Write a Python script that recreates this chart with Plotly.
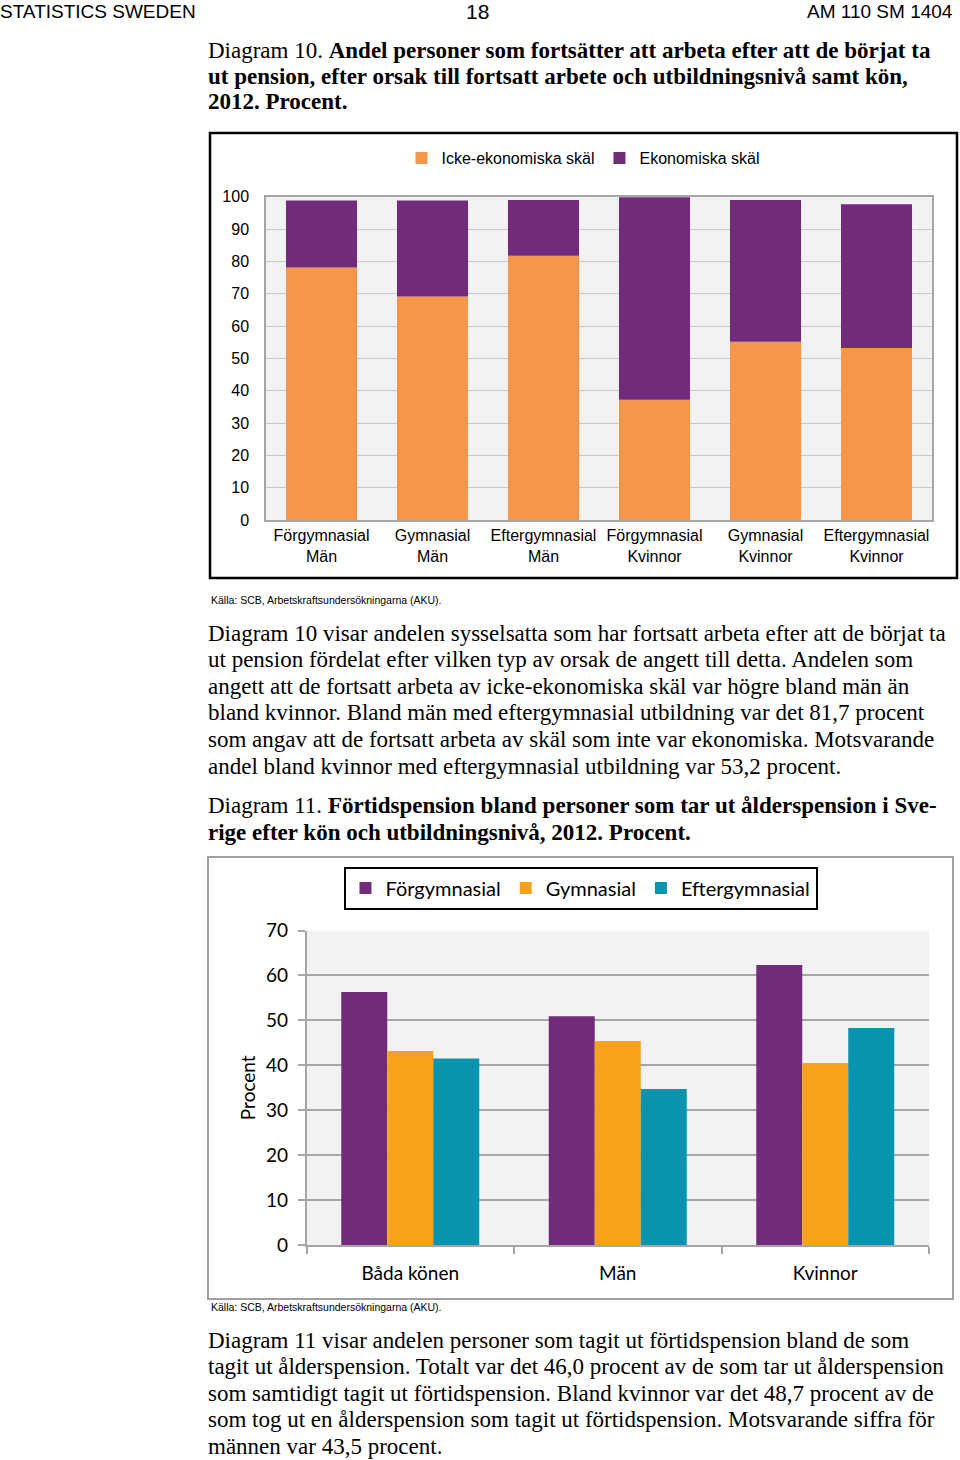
import plotly.graph_objects as go

W, H = 960, 1460


def px(x):
    return x / W


def py(y):
    return 1 - y / H


# ---------------- Data: Diagram 10 ----------------
cat1 = ["Förgymnasial<br>Män", "Gymnasial<br>Män", "Eftergymnasial<br>Män",
        "Förgymnasial<br>Kvinnor", "Gymnasial<br>Kvinnor", "Eftergymnasial<br>Kvinnor"]
icke_ekonomiska = [78.1, 69.1, 81.7, 37.2, 55.1, 53.2]
ekonomiska = [20.7, 29.7, 17.3, 62.6, 43.9, 44.5]
y1_ticks = [0, 10, 20, 30, 40, 50, 60, 70, 80, 90, 100]

# ---------------- Data: Diagram 11 ----------------
cat2 = ["Båda könen", "Män", "Kvinnor"]
forgymnasial = [56.3, 50.9, 62.3]
gymnasial = [43.2, 45.4, 40.5]
eftergymnasial = [41.5, 34.7, 48.3]
y2_ticks = [0, 10, 20, 30, 40, 50, 60, 70]

ORANGE = "#F5964A"
PURPLE = "#722B7B"
GOLD = "#F7A21B"
TEAL = "#0893AE"

SANS = "Liberation Sans"
SERIF = "Liberation Serif"
CAL = "Lato"

fig = go.Figure()

fig.add_trace(go.Bar(x=cat1, y=icke_ekonomiska, name="Icke-ekonomiska skäl",
                     marker=dict(color=ORANGE, line=dict(width=0)),
                     offsetgroup="s", width=0.64, xaxis="x", yaxis="y", legend="legend"))
fig.add_trace(go.Bar(x=cat1, y=ekonomiska, base=icke_ekonomiska, name="Ekonomiska skäl",
                     marker=dict(color=PURPLE, line=dict(width=0)),
                     offsetgroup="s", width=0.64, xaxis="x", yaxis="y", legend="legend"))

for name, vals, col, g in [("Förgymnasial", forgymnasial, PURPLE, "a"),
                           ("Gymnasial", gymnasial, GOLD, "b"),
                           ("Eftergymnasial", eftergymnasial, TEAL, "c")]:
    fig.add_trace(go.Bar(x=cat2, y=vals, name=name,
                         marker=dict(color=col, line=dict(width=0)),
                         offsetgroup=g, xaxis="x2", yaxis="y2", legend="legend2"))

annotations = []


def txt(x, y, text, size, family, anchor="left", color="black"):
    annotations.append(dict(x=px(x), y=py(y), xref="paper", yref="paper",
                            text=text, showarrow=False, xanchor=anchor, yanchor="middle",
                            font=dict(family=family, size=size, color=color)))


# Header
txt(-2, 11, "STATISTICS SWEDEN", 19, SANS)
txt(477, 12, "18", 21, SANS, anchor="center")
txt(955, 11, "AM 110 SM 1404", 19, SANS, anchor="right")

# Title diagram 10
txt(206, 50, "Diagram 10. <b>Andel personer som fortsätter att arbeta efter att de börjat ta</b>", 23, SERIF)
txt(206, 76, "<b>ut pension, efter orsak till fortsatt arbete och utbildningsnivå samt kön,</b>", 23, SERIF)
txt(206, 102, "<b>2012. Procent.</b>", 23, SERIF)

txt(209, 600, "Källa: SCB, Arbetskraftsundersökningarna (AKU).", 10.5, SANS)

body1 = [
    (633, "Diagram 10 visar andelen sysselsatta som har fortsatt arbeta efter att de börjat ta"),
    (659, "ut pension fördelat efter vilken typ av orsak de angett till detta. Andelen som"),
    (686, "angett att de fortsatt arbeta av icke-ekonomiska skäl var högre bland män än"),
    (712, "bland kvinnor. Bland män med eftergymnasial utbildning var det 81,7 procent"),
    (739, "som angav att de fortsatt arbeta av skäl som inte var ekonomiska. Motsvarande"),
    (766, "andel bland kvinnor med eftergymnasial utbildning var 53,2 procent."),
]
for y, t in body1:
    txt(206, y, t, 23, SERIF)

txt(206, 805, "Diagram 11. <b>Förtidspension bland personer som tar ut ålderspension i Sve-</b>", 23, SERIF)
txt(206, 832, "<b>rige efter kön och utbildningsnivå, 2012. Procent.</b>", 23, SERIF)

txt(209, 1307, "Källa: SCB, Arbetskraftsundersökningarna (AKU).", 10.5, SANS)

body2 = [
    (1340, "Diagram 11 visar andelen personer som tagit ut förtidspension bland de som"),
    (1366, "tagit ut ålderspension. Totalt var det 46,0 procent av de som tar ut ålderspension"),
    (1393, "som samtidigt tagit ut förtidspension. Bland kvinnor var det 48,7 procent av de"),
    (1419, "som tog ut en ålderspension som tagit ut förtidspension. Motsvarande siffra för"),
    (1446, "männen var 43,5 procent."),
]
for y, t in body2:
    txt(206, y, t, 23, SERIF)

shapes = [
    dict(type="rect", xref="paper", yref="paper", x0=px(210), x1=px(957), y0=py(578), y1=py(133),
         line=dict(color="black", width=2.5), fillcolor="rgba(0,0,0,0)", layer="above"),
    dict(type="rect", xref="paper", yref="paper", x0=px(208), x1=px(953), y0=py(1299), y1=py(857),
         line=dict(color="#a0a0a0", width=2), fillcolor="rgba(0,0,0,0)", layer="above"),
]

fig.update_layout(
    width=W, height=H,
    margin=dict(l=0, r=0, t=0, b=0, pad=0, autoexpand=False),
    paper_bgcolor="white",
    plot_bgcolor="#f2f2f2",
    barmode="group",
    bargap=0.335,
    bargroupgap=0,
    annotations=annotations,
    shapes=shapes,
    showlegend=True,
    xaxis=dict(domain=[px(266), px(932)], anchor="y", type="category", range=[-0.5, 5.5],
               showgrid=False, ticks="", showline=True, linecolor="#a6a6a6", linewidth=1.5,
               mirror=True, automargin=False, tickfont=dict(family=SANS, size=16, color="black")),
    yaxis=dict(domain=[py(520), py(196.7)], anchor="x", range=[0, 100], tickvals=y1_ticks,
               showgrid=True, gridcolor="#c9c9c9", gridwidth=1, zeroline=False,
               showline=True, linecolor="#a6a6a6", linewidth=1.5, mirror=True, ticks="",
               automargin=False, ticklabelstandoff=12,
               tickfont=dict(family=SANS, size=16, color="black")),
    xaxis2=dict(domain=[px(306.5), px(929)], anchor="y2", type="category", range=[-0.5, 2.5],
                showgrid=False, ticks="outside", tickson="boundaries", ticklen=7,
                tickcolor="#a6a6a6", tickwidth=1.5, showline=True, linecolor="#a6a6a6",
                linewidth=1.5, ticklabelstandoff=10, automargin=False,
                tickfont=dict(family=CAL, size=19, color="black")),
    yaxis2=dict(domain=[py(1245), py(930.5)], anchor="x2", range=[0, 70], tickvals=y2_ticks,
                showgrid=True, gridcolor="#a6a6a6", gridwidth=1.5, zeroline=False,
                showline=True, linecolor="#a6a6a6", linewidth=1.5, ticks="outside",
                ticklen=7, tickcolor="#a6a6a6", tickwidth=1.5, ticklabelstandoff=6,
                automargin=False,
                tickfont=dict(family=CAL, size=19, color="black"),
                title=dict(text="Procent", font=dict(family=CAL, size=19, color="black"), standoff=5)),
    legend=dict(orientation="h", x=px(583), xanchor="center", y=py(158), yanchor="middle",
                xref="paper", yref="paper", bgcolor="rgba(0,0,0,0)", traceorder="normal",
                font=dict(family=SANS, size=16, color="black")),
    legend2=dict(orientation="h", x=px(580.5), xanchor="center", y=py(888), yanchor="middle",
                 xref="paper", yref="paper", bgcolor="white", bordercolor="black", borderwidth=2,
                 traceorder="normal", font=dict(family=CAL, size=20, color="black")),
)

fig.write_html("out.html", config={"displayModeBar": False},
               post_script="document.body.style.margin='0';")
